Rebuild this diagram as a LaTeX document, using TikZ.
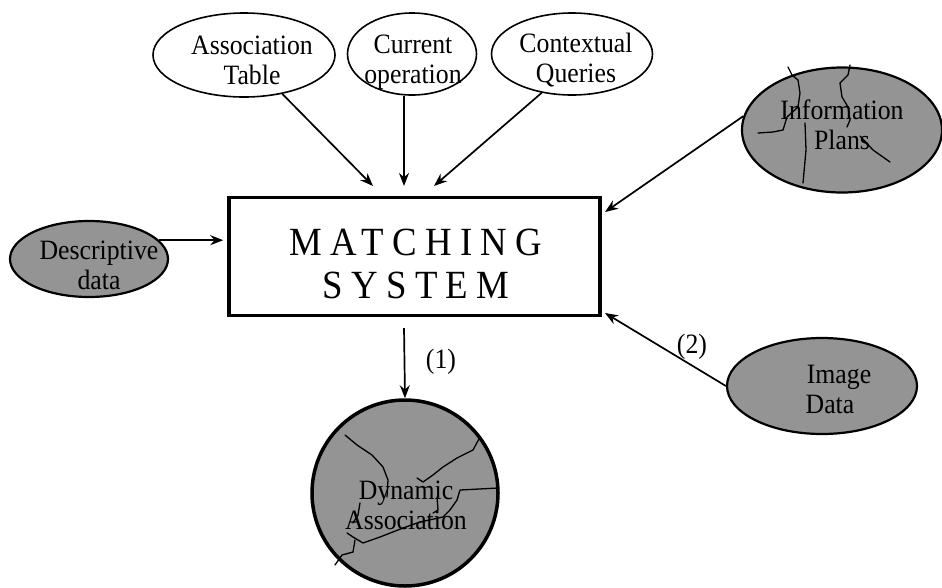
\documentclass[tikz,border=0pt]{standalone}
\usepackage{fontspec}
\setmainfont{Liberation Serif}[FakeStretch=0.92]
\usetikzlibrary{shapes.geometric,arrows.meta}
\begin{document}
\begin{tikzpicture}[x=1pt,y=-1pt,
  ellw/.style={draw=black,line width=1.6pt,ellipse,inner sep=0pt,fill=white},
  ellg/.style={draw=black,line width=2.2pt,ellipse,inner sep=0pt,fill=black!42},
  txt/.style={inner sep=0pt,align=center,font=\fontsize{28}{30}\selectfont},
  lbl/.style={inner sep=0pt,font=\fontsize{28}{30}\selectfont},
  arr/.style={line width=1.7pt,-{Stealth[length=13pt,width=10pt]}},
  crack/.style={line width=1.3pt,line join=round,line cap=round}]
\useasboundingbox (0,0) rectangle (942,587);

% main box
\node[draw=black,line width=3.5pt,minimum width=371pt,minimum height=118pt,inner sep=0pt] (box) at (414.5,256.5) {};
\node[inner sep=0pt,align=center,font=\fontsize{40}{43}\selectfont\addfontfeatures{LetterSpace=21}] (boxT) at (412,264)
      {\hspace*{8pt}MATCHING\\\hspace*{8pt}SYSTEM};

% top ellipses
\node[ellw,minimum width=182pt,minimum height=84pt] (assoc) at (244,55) {};
\node[txt] (assocT) at (252,60) {Association\\Table};
\node[ellw,minimum width=129pt,minimum height=82pt] (cur) at (412,54) {};
\node[txt] (curT) at (413,62) {Current\\operation};
\node[ellw,minimum width=161pt,minimum height=82pt] (ctx) at (572,54) {};
\node[txt] (ctxT) at (576,60) {Contextual\\Queries};

% shaded ellipses
\node[ellg,minimum width=200pt,minimum height=125pt] (info) at (842,130) {};
\node[ellg,minimum width=158pt,minimum height=76pt] (desc) at (89,259) {};
\node[ellg,minimum width=190pt,minimum height=96pt] (img) at (822,386) {};
\node[ellg,circle,line width=3.5pt,minimum size=186pt] (dyn) at (405,493) {};

% cracks in Information Plans
\draw[crack] (788,67) -- (792,75) -- (798,80) -- (800,93) -- (798,107) -- (787,117) -- (783,130) -- (773,132) -- (758,133);
\draw[crack] (805,123) -- (806,150) -- (803,183);
\draw[crack] (850,65) -- (848,75) -- (840,83) -- (842,97) -- (848,107) -- (850,120) -- (847,127);
\draw[crack] (860,136) -- (873,150) -- (890,162);

% cracks in Dynamic Association
\draw[crack] (345,435) -- (357,445) -- (372,455) -- (383,467) -- (388,480) -- (387,497);
\draw[crack] (480,437) -- (473,450) -- (457,458) -- (443,467) -- (433,475) -- (423,482) -- (417,478);
\draw[crack] (437,497) -- (438,510) -- (433,513);
\draw[crack] (498,488) -- (460,490) -- (457,500) -- (450,510) -- (443,517) -- (420,522) -- (403,528) -- (380,537) -- (363,543) -- (353,537) -- (347,533);
\draw[crack] (355,540) -- (353,552) -- (342,555) -- (335,565);
\draw[crack] (360,503) -- (358,515) -- (353,523);

% texts in shaded shapes
\node[txt] (infoT) at (842,125) {Information\\Plans};
\node[txt] (descT) at (99,265) {Descriptive\\data};
\node[txt] (imgT) at (830,389) {\hspace*{18pt}Image\\Data};
\node[txt] (dynT) at (406,505) {Dynamic\\Association};

% arrow targets
\coordinate (t1) at (373,186);
\coordinate (t2) at (404,186);
\coordinate (t3) at (434,186);
\coordinate (ta) at (605,212);
\coordinate (tb) at (605,313);
\coordinate (s1) at (404,328);

\draw[arr] (assoc) -- (t1);
\draw[arr] (t2 |- cur.south) -- (t2);
\draw[arr] (ctx.-128) -- (t3);
\draw[arr] (info.172) -- (ta);
\draw[arr] (img.west) -- (tb);
\draw[arr] (desc.15) -- ([xshift=-4pt]box.west |- desc.15);
\draw[arr] (s1) -- (dyn.north);

\node[lbl] (l1) at (441,362) {(1)};
\node[lbl] (l2) at (692,347) {(2)};
\end{tikzpicture}
\end{document}
